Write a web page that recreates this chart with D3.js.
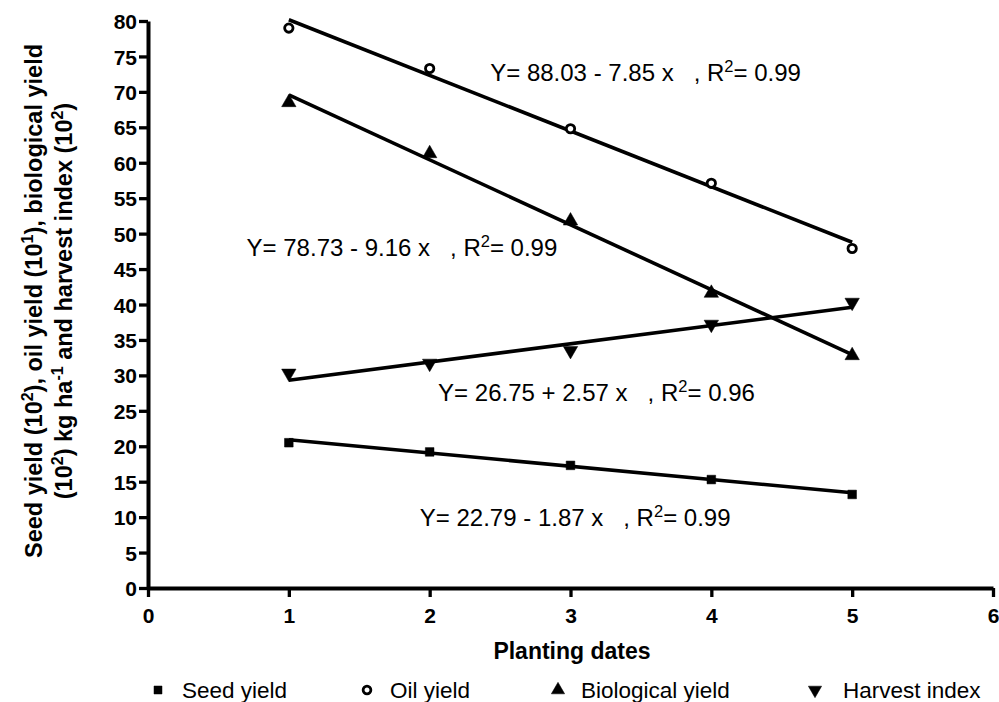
<!DOCTYPE html>
<html><head><meta charset="utf-8">
<script src="https://cdn.jsdelivr.net/npm/d3@7"></script>
<style>body{margin:0;background:#fff;overflow:hidden}svg{display:block}text{font-family:"Liberation Sans",Arial,sans-serif;white-space:pre}</style>
</head><body>
<script>
const dates = [1, 2, 3, 4, 5];
const seedYield = [20.5, 19.2, 17.3, 15.3, 13.2];
const oilYield = [79.0, 73.3, 64.8, 57.1, 47.9];
const bioYield = [68.5, 61.3, 51.8, 41.6, 32.8];
const harvestIndex = [30.3, 31.7, 33.5, 37.2, 40.3];
const xTicks = [0, 1, 2, 3, 4, 5, 6];
const yTicks = [0, 5, 10, 15, 20, 25, 30, 35, 40, 45, 50, 55, 60, 65, 70, 75, 80];
// regression coefficients [intercept, slope]
const seedFit = [22.79, -1.87];
const oilFit = [88.03, -7.85];
const bioFit = [78.73, -9.16];
const harvestFit = [26.75, 2.57];
const equations = [
  {t: "Y= 88.03 - 7.85 x   , R", r: "= 0.99", x: 2.43, y: 72.7},
  {t: "Y= 78.73 - 9.16 x   , R", r: "= 0.99", x: 0.70, y: 48.0},
  {t: "Y= 26.75 + 2.57 x   , R", r: "= 0.96", x: 2.06, y: 27.5},
  {t: "Y= 22.79 - 1.87 x   , R", r: "= 0.99", x: 1.93, y: 9.9}
];

const W = 999, H = 702;
const svg = d3.select("body").append("svg").attr("width", W).attr("height", H);
const x = d3.scaleLinear().domain([0, 6]).range([148, 993]);
const y = d3.scaleLinear().domain([0, 80]).range([588, 21]);

const series = [
  {name: "Seed yield", vals: seedYield, fit: seedFit, sym: d3.symbolSquare, size: 75, fill: true},
  {name: "Oil yield", vals: oilYield, fit: oilFit, sym: d3.symbolCircle, size: 55, fill: false},
  {name: "Biological yield", vals: bioYield, fit: bioFit, sym: d3.symbolTriangle, size: 90, fill: true},
  {name: "Harvest index", vals: harvestIndex, fit: harvestFit, sym: d3.symbolTriangle, size: 90, fill: true, rot: 180}
];

// axes
const xAxis = svg.append("g").attr("transform", `translate(0,${y(0)})`)
  .call(d3.axisBottom(x).tickValues(xTicks).tickFormat(d3.format("d")).tickSize(9).tickSizeOuter(0).tickPadding(11));
const yAxis = svg.append("g").attr("transform", `translate(${x(0)},0)`)
  .call(d3.axisLeft(y).tickValues(yTicks).tickFormat(d3.format("d")).tickSize(9).tickSizeOuter(0).tickPadding(2));
[xAxis, yAxis].forEach(g => {
  g.select(".domain").attr("stroke", "#000").attr("stroke-width", 4);
  g.selectAll(".tick line").attr("stroke", "#000").attr("stroke-width", 3.3);
  g.selectAll("text").attr("font-family", "Liberation Sans, Arial, sans-serif")
    .attr("font-size", 21).attr("font-weight", "bold").attr("fill", "#000");
});
yAxis.selectAll(".tick text").attr("dy", "0.36em");

// fitted lines
series.forEach(s => {
  svg.append("line")
    .attr("x1", x(dates[0])).attr("y1", y(s.fit[0] + s.fit[1] * dates[0]))
    .attr("x2", x(dates[dates.length - 1])).attr("y2", y(s.fit[0] + s.fit[1] * dates[dates.length - 1]))
    .attr("stroke", "#000").attr("stroke-width", 3.6);
});

function drawSym(g, s, px, py) {
  g.append("path")
    .attr("d", d3.symbol().type(s.sym).size(s.size)())
    .attr("transform", `translate(${px},${py})` + (s.rot ? ` rotate(${s.rot})` : ""))
    .attr("fill", s.fill ? "#000" : "#fff")
    .attr("stroke", "#000").attr("stroke-width", s.fill ? 0.5 : 2.8);
}
series.forEach(s => {
  const g = svg.append("g");
  s.vals.forEach((v, i) => drawSym(g, s, x(dates[i]), y(v)));
});

// equations
equations.forEach(e => {
  const t = svg.append("text").attr("x", x(e.x)).attr("y", y(e.y)).attr("dy", "0.35em")
    .attr("font-size", 24).attr("fill", "#000");
  t.append("tspan").text(e.t);
  t.append("tspan").attr("dy", -9.5).attr("font-size", 16.5).text("2");
  t.append("tspan").attr("dy", 9.5).text(e.r);
});

// x title
svg.append("text").attr("x", 572).attr("y", 659).attr("text-anchor", "middle")
  .attr("font-size", 23).attr("font-weight", "bold").text("Planting dates");

// y title
const yt = svg.append("g").attr("transform", "translate(0,301) rotate(-90)");
function supLine(yy, parts) {
  const t = yt.append("text").attr("x", 0).attr("y", yy).attr("text-anchor", "middle")
    .attr("font-size", 23.5).attr("font-weight", "bold").attr("fill", "#000");
  let shifted = false;
  parts.forEach(p => {
    if (typeof p === "string") {
      const ts = t.append("tspan").text(p);
      if (shifted) { ts.attr("dy", 9); shifted = false; }
    } else {
      t.append("tspan").attr("dy", -9).attr("font-size", 16).text(p.sup);
      shifted = true;
    }
  });
}
supLine(42, ["Seed yield (10", {sup: "2"}, "), oil yield (10", {sup: "1"}, "), biological yield"]);
supLine(72, ["(10", {sup: "2"}, ") kg ha", {sup: "-1"}, " and harvest index (10", {sup: "2"}, ")"]);

// legend
const legX = [158, 367, 558, 815];
const legTx = [182, 390, 581, 843];
const legY = 690;
series.forEach((s, i) => {
  const g = svg.append("g");
  drawSym(g, Object.assign({}, s, {size: s.size * 0.85}), legX[i], legY);
  g.append("text").attr("x", legTx[i]).attr("y", legY).attr("dy", "0.35em")
    .attr("font-size", 22.5).attr("fill", "#000").text(s.name);
});
</script>
</body></html>
